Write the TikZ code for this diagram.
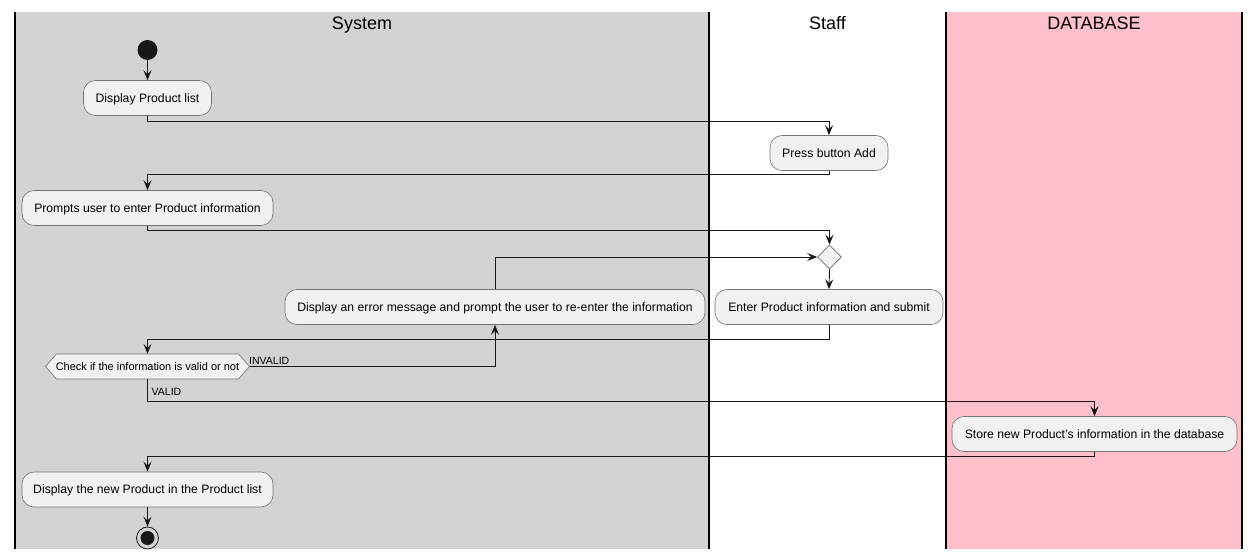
\documentclass[tikz,border=0pt]{standalone}
\usepackage{fontspec}
\setmainfont{Liberation Sans}[Ligatures=ResetAll]
\usetikzlibrary{arrows.meta,calc,shapes.geometric}
\definecolor{sysgray}{HTML}{D3D3D3}
\definecolor{dbpink}{HTML}{FFC0CB}
\definecolor{boxfill}{HTML}{F1F1F1}
\definecolor{lineblk}{HTML}{181818}
\begin{document}
\begin{tikzpicture}[x=1pt,y=-1pt,
  actbox/.style={draw=black!55, line width=0.6pt, fill=boxfill, rounded corners=12pt,
    minimum height=35pt, inner sep=0pt, text height=8.6pt, text depth=0pt,
    font=\fontsize{12.2}{14}\selectfont},
  flow/.style={draw=lineblk, line width=0.9pt, -{Stealth[length=10pt,width=8pt,inset=4pt]}},
  lanetitle/.style={anchor=base, inner sep=0pt, font=\fontsize{18}{20}\selectfont},
  lbl/.style={anchor=base west, inner sep=0pt, font=\fontsize{10.5}{12}\selectfont},
  lane/.style={line width=1.5pt, draw=black}
]
\useasboundingbox (0,0) rectangle (1260,559);
% lanes
\fill[sysgray] (15,12) rectangle (709,549);
\fill[white] (709,12) rectangle (946,549);
\fill[dbpink] (946,12) rectangle (1242,549);
\foreach \x in {15,709,946,1242} \draw[lane] (\x,12) -- (\x,549);
\node[lanetitle] (tsys) at (362,29.5) {System};
\node[lanetitle] (tstaff) at (827.5,29.5) {Staff};
\node[lanetitle] (tdb) at (1094,29.5) {DATABASE};
% nodes
\node[circle, fill=lineblk, minimum size=20pt, inner sep=0pt] (start) at (147.5,50) {};
\node[actbox, minimum width=128pt] (dpl) at (147.5,98) {Display Product list};
\node[actbox, minimum width=118pt] (press) at (829,153) {Press button Add};
\node[actbox, minimum width=251pt] (prompts) at (147.5,208) {Prompts user to enter Product information};
\node[diamond, draw=black!55, line width=0.6pt, fill=boxfill, minimum width=24pt, minimum height=24pt, inner sep=0pt] (dec) at (829.5,257) {};
\node[actbox, minimum width=228pt] (enter) at (829,307) {Enter Product information and submit};
\node[actbox, minimum width=420pt] (error) at (495,307) {Display an error message and prompt the user to re-enter the information};
% hexagon decision
\path[draw=black!55, line width=0.6pt, fill=boxfill]
  (56.5,354) -- (238.5,354) -- (249.5,366.5) -- (238.5,379) -- (56.5,379) -- (45.5,366.5) -- cycle;
\node[inner sep=0pt, minimum width=182pt, minimum height=25pt, text height=7.9pt, text depth=0pt,
  font=\fontsize{11}{13}\selectfont] (check) at (147.5,366.5) {Check if the information is valid or not};
\coordinate (checkE) at ($(check.east)+(11,0)$);
\node[actbox, minimum width=285pt] (store) at (1094.5,434) {Store new Product's information in the database};
\node[actbox, minimum width=251pt] (dnew) at (147.5,489.5) {Display the new Product in the Product list};
\node[circle, draw=lineblk, line width=0.8pt, minimum size=22pt, inner sep=0pt] (stop) at (147.5,538) {};
\fill[lineblk] (stop.center) circle (7pt);
% connectors
\draw[flow] (start) -- (dpl);
\draw[flow] (dpl.south) -- ++(0,6) -| (press.north);
\draw[flow] (press.south) -- ++(0,4) -| (prompts.north);
\draw[flow] (prompts.south) -- ++(0,5) -| (dec.north);
\draw[flow] (error.north) |- (dec.west);
\draw[flow] (dec.south) -- (enter.north);
\draw[flow] (enter.south) -- ++(0,14.5) -| (check.north);
\draw[flow] (checkE) -| (error.south);
\node[lbl] (linvalid) at (249,364) {INVALID};
\draw[flow] (check.south) -- ++(0,22) -| (store.north);
\node[lbl] (lvalid) at (151.5,395) {VALID};
\draw[flow] (store.south) -- ++(0,4.5) -| (dnew.north);
\draw[flow] (dnew) -- (stop);
\end{tikzpicture}
\end{document}
